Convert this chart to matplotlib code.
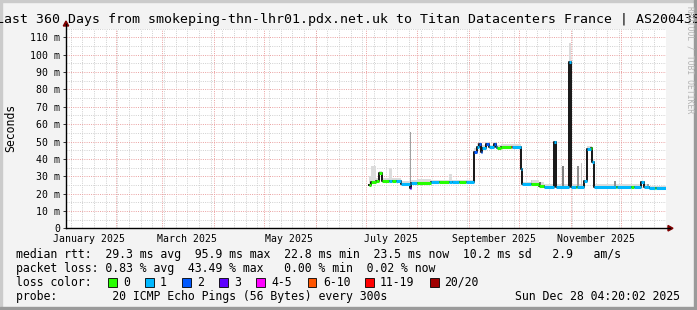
import matplotlib
matplotlib.use("Agg")
import matplotlib.pyplot as plt
import matplotlib.dates as mdates
from matplotlib.lines import Line2D
from matplotlib.patches import Rectangle, Polygon
import pandas as pd

W, H = 697, 310
MONO = "DejaVu Sans Mono"

START = "2025-01-02 04:20"
END = "2025-12-28 04:20"

# median rtt as steps: start of each step, median (ms), loss class, top of smoke (ms)
step_dates = [
    "2025-07-03", "2025-07-04", "2025-07-07", "2025-07-09", "2025-07-10 12:00",
    "2025-07-15", "2025-07-17", "2025-07-19", "2025-07-22", "2025-07-27 12:00",
    "2025-07-28", "2025-08-01", "2025-08-09", "2025-08-14", "2025-08-20",
    "2025-08-22", "2025-08-26", "2025-08-30", "2025-09-04", "2025-09-06",
    "2025-09-07", "2025-09-08", "2025-09-09", "2025-09-11", "2025-09-13",
    "2025-09-16", "2025-09-17", "2025-09-17 18:00", "2025-09-18", "2025-09-20",
    "2025-09-26", "2025-09-27", "2025-10-02", "2025-10-03", "2025-10-08",
    "2025-10-13", "2025-10-16", "2025-10-22", "2025-10-23", "2025-10-31",
    "2025-11-01", "2025-11-04", "2025-11-05", "2025-11-09", "2025-11-11",
    "2025-11-13", "2025-11-14", "2025-11-15", "2025-11-28", "2025-11-29",
    "2025-12-07", "2025-12-09", "2025-12-13", "2025-12-15", "2025-12-18",
    "2025-12-21 12:00", "2025-12-22",
]
median_ms = [
    25.0, 26.9, 27.0, 31.7, 27.1,
    27.2, 27.0, 27.3, 25.5, 23.0,
    25.9, 25.9, 26.7, 26.7, 26.6,
    26.6, 26.8, 26.6, 43.8, 47.0,
    48.6, 43.8, 46.1, 48.6, 46.6,
    48.4, 46.8, 46.8, 46.1, 46.6,
    46.6, 46.6, 34.2, 25.3, 25.3,
    24.2, 24.0, 49.9, 24.0, 96.0,
    24.0, 24.0, 24.0, 27.2, 45.7,
    46.1, 38.0, 24.0, 24.0, 24.0,
    24.0, 24.0, 26.9, 24.0, 23.0,
    23.0, 23.4,
]
loss_class = [
    0, 0, 0, 0, 0,
    1, 0, 1, 1, 3,
    1, 0, 1, 0, 1,
    1, 0, 1, 2, 1,
    2, 2, 1, 2, 1,
    2, 1, 5, 0, 0,
    5, 1, 1, 1, 0,
    0, 1, 1, 1, 1,
    1, 0, 1, 1, 1,
    0, 1, 1, 0, 1,
    0, 1, 1, 1, 1,
    0, 1,
]
smoke_ms = [
    30.0, 35.8, 29.0, 33.0, 29.0,
    35.0, 29.0, 29.0, 27.5, 25.0,
    28.0, 28.2, 28.0, 28.0, 31.0,
    28.0, 28.0, 28.0, 46.0, 49.0,
    50.0, 46.0, 48.0, 50.0, 48.0,
    50.0, 49.0, 51.3, 48.0, 48.5,
    48.5, 48.5, 36.0, 26.5, 27.8,
    26.9, 25.5, 50.5, 25.5, 107.0,
    25.5, 25.5, 25.5, 28.0, 47.5,
    47.5, 40.0, 25.5, 25.5, 25.5,
    25.5, 25.5, 27.5, 25.5, 24.5,
    24.5, 24.5,
]

# isolated smoke spikes: date, top (ms), grey
spike_dates = ["2025-07-27 12:00", "2025-10-13", "2025-10-27", "2025-11-05",
               "2025-11-07", "2025-11-27", "2025-12-17", "2025-10-08"]
spike_top = [55.3, 26.9, 35.9, 36.0, 37.4, 27.0, 25.8, 27.8]
spike_grey = ["#a0a0a0", "#707070", "#808080", "#909090",
              "#c4c4c4", "#909090", "#a0a0a0", "#c8c8c8"]

loss_colors = ["#26ff00", "#00b8ff", "#0059ff", "#5e00ff",
               "#ff00ff", "#ff5500", "#ff0000", "#a00000"]
loss_labels = ["0", "1", "2", "3", "4-5", "6-10", "11-19", "20/20"]

y_ticks = [0, 10, 20, 30, 40, 50, 60, 70, 80, 90, 100, 110]
x_labels = ["January 2025", "March 2025", "May 2025",
            "July 2025", "September 2025", "November 2025"]
x_label_dates = ["2025-01-16", "2025-03-16", "2025-05-16",
                 "2025-07-16", "2025-09-16", "2025-11-16"]

rtt_line = "median rtt:  29.3 ms avg  95.9 ms max  22.8 ms min  23.5 ms now  10.2 ms sd   2.9   am/s"
loss_line = "packet loss: 0.83 % avg  43.49 % max   0.00 % min  0.02 % now"
probe_line = "probe:        20 ICMP Echo Pings (56 Bytes) every 300s"
stamp = "Sun Dec 28 04:20:02 2025"


def fx(x):
    return x / W


def fy(y):
    return 1 - y / H


def dnum(s):
    return mdates.date2num(pd.Timestamp(s))


fig = plt.figure(figsize=(W / 100, H / 100), dpi=100, facecolor="#f3f3f3")

# frame shading
fig.patches.append(Rectangle((0, fy(2)), 1, 2 / H, transform=fig.transFigure, color="#cbcbcb"))
fig.patches.append(Rectangle((0, 0), 2 / W, 1, transform=fig.transFigure, color="#cbcbcb"))
fig.patches.append(Rectangle((fx(694), 0), 3 / W, 1, transform=fig.transFigure, color="#9a9a9a"))
fig.patches.append(Rectangle((0, 0), 1, 3 / H, transform=fig.transFigure, color="#9a9a9a"))

ax = fig.add_axes([fx(66), fy(228.3), 600 / W, (228.3 - 28.7) / H])
ax.set_facecolor("white")
x0, x1 = dnum(START), dnum(END)
ax.set_xlim(x0, x1)
ax.set_ylim(0, 115)

# grid
dots = (0, (1, 1.3))
for d in pd.date_range("2025-01-05", END, freq="7D"):
    ax.axvline(mdates.date2num(d), color="#cfcfcf", lw=0.7, ls=dots, zorder=0)
for d in pd.date_range("2025-02-01", END, freq="MS"):
    ax.axvline(mdates.date2num(d), color="#eaa0a0", lw=0.7, ls=dots, zorder=0.5)
for v in range(5, 116, 5):
    if v % 10:
        ax.axhline(v, color="#cfcfcf", lw=0.7, ls=dots, zorder=0)
for v in range(10, 116, 10):
    ax.axhline(v, color="#eaa0a0", lw=0.7, ls=dots, zorder=0.5)

edges = [dnum(s) for s in step_dates] + [x1]
med_ext = median_ms + [median_ms[-1]]
smk_ext = smoke_ms + [smoke_ms[-1]]

# smoke
ax.fill_between(edges, med_ext, smk_ext, step="post", color="#dcdcdc", lw=0, zorder=1)
for d, top, g in zip(spike_dates, spike_top, spike_grey):
    xd = dnum(d)
    i = max(k for k in range(len(step_dates)) if edges[k] <= xd)
    ax.bar(xd, top - median_ms[i], bottom=median_ms[i], width=0.9,
           color=g, lw=0, zorder=1.5, align="edge")

# median line, black for the jumps, loss colour on the flats
ax.step(edges, med_ext, where="post", color="#151515", lw=1.4, zorder=2)
for i in range(len(median_ms)):
    ax.hlines(median_ms[i], edges[i], edges[i + 1],
              color=loss_colors[loss_class[i]], lw=2.2, zorder=3)

for s in ax.spines.values():
    s.set_visible(False)

ax.set_yticks(y_ticks)
ax.set_yticklabels(["0"] + [f"{v} m" for v in y_ticks[1:]], fontfamily=MONO, fontsize=7.1)
ax.set_xticks([dnum(s) for s in x_label_dates])
ax.set_xticklabels(x_labels, fontfamily=MONO, fontsize=7.1)
ax.tick_params(axis="y", length=2.2, width=0.7, pad=2.2, color="#333333")
ax.tick_params(axis="x", length=0, pad=4)

# axis lines with arrow heads
fig.add_artist(Line2D([fx(66), fx(670)], [fy(228.3), fy(228.3)], color="black", lw=1.0))
fig.add_artist(Line2D([fx(66), fx(66)], [fy(228.3), fy(24)], color="black", lw=1.0))
fig.patches.append(Polygon([(fx(668), fy(225.5)), (fx(673), fy(228.3)), (fx(668), fy(231))],
                           closed=True, transform=fig.transFigure, color="#800000"))
fig.patches.append(Polygon([(fx(63.3), fy(26)), (fx(66), fy(21)), (fx(68.7), fy(26))],
                           closed=True, transform=fig.transFigure, color="#800000"))

fig.text(fx(348.5), fy(19), "Last 360 Days from smokeping-thn-lhr01.pdx.net.uk to Titan Datacenters France | AS200435",
         ha="center", va="center", fontfamily=MONO, fontsize=9.5)
fig.text(fx(11), fy(128), "Seconds", rotation=90, ha="center", va="center",
         fontfamily=MONO, fontsize=8.3)
fig.text(fx(690), fy(60), "RRDTOOL / TOBI OETIKER", rotation=-90, ha="center", va="center",
         fontfamily=MONO, fontsize=5.8, color="#b4b4b4")

# legend
fs = 8.3
rows = [254.3, 268.3, 282.3, 296.3]
fig.text(fx(16), fy(rows[0]), rtt_line, va="center", fontfamily=MONO, fontsize=fs)
fig.text(fx(16), fy(rows[1]), loss_line, va="center", fontfamily=MONO, fontsize=fs)
fig.text(fx(16), fy(rows[2]), "loss color:", va="center", fontfamily=MONO, fontsize=fs)
box_x = [108, 145, 182, 219, 256.4, 307.5, 365, 430]
lab_x = [123.5, 160, 196.9, 234.2, 271.6, 323, 380, 444.4]
for c, lab, bx, lx in zip(loss_colors, loss_labels, box_x, lab_x):
    fig.patches.append(Rectangle((fx(bx), fy(rows[2] + 4.5)), 8.5 / W, 8.5 / H,
                                 transform=fig.transFigure, facecolor=c,
                                 edgecolor="black", lw=0.6))
    fig.text(fx(lx), fy(rows[2]), lab, va="center", fontfamily=MONO, fontsize=fs)
fig.text(fx(16), fy(rows[3]), probe_line, va="center", fontfamily=MONO, fontsize=fs)
fig.text(fx(680), fy(rows[3]), stamp, ha="right", va="center", fontfamily=MONO, fontsize=fs)

fig.savefig("out.png", dpi=100, facecolor=fig.get_facecolor())
